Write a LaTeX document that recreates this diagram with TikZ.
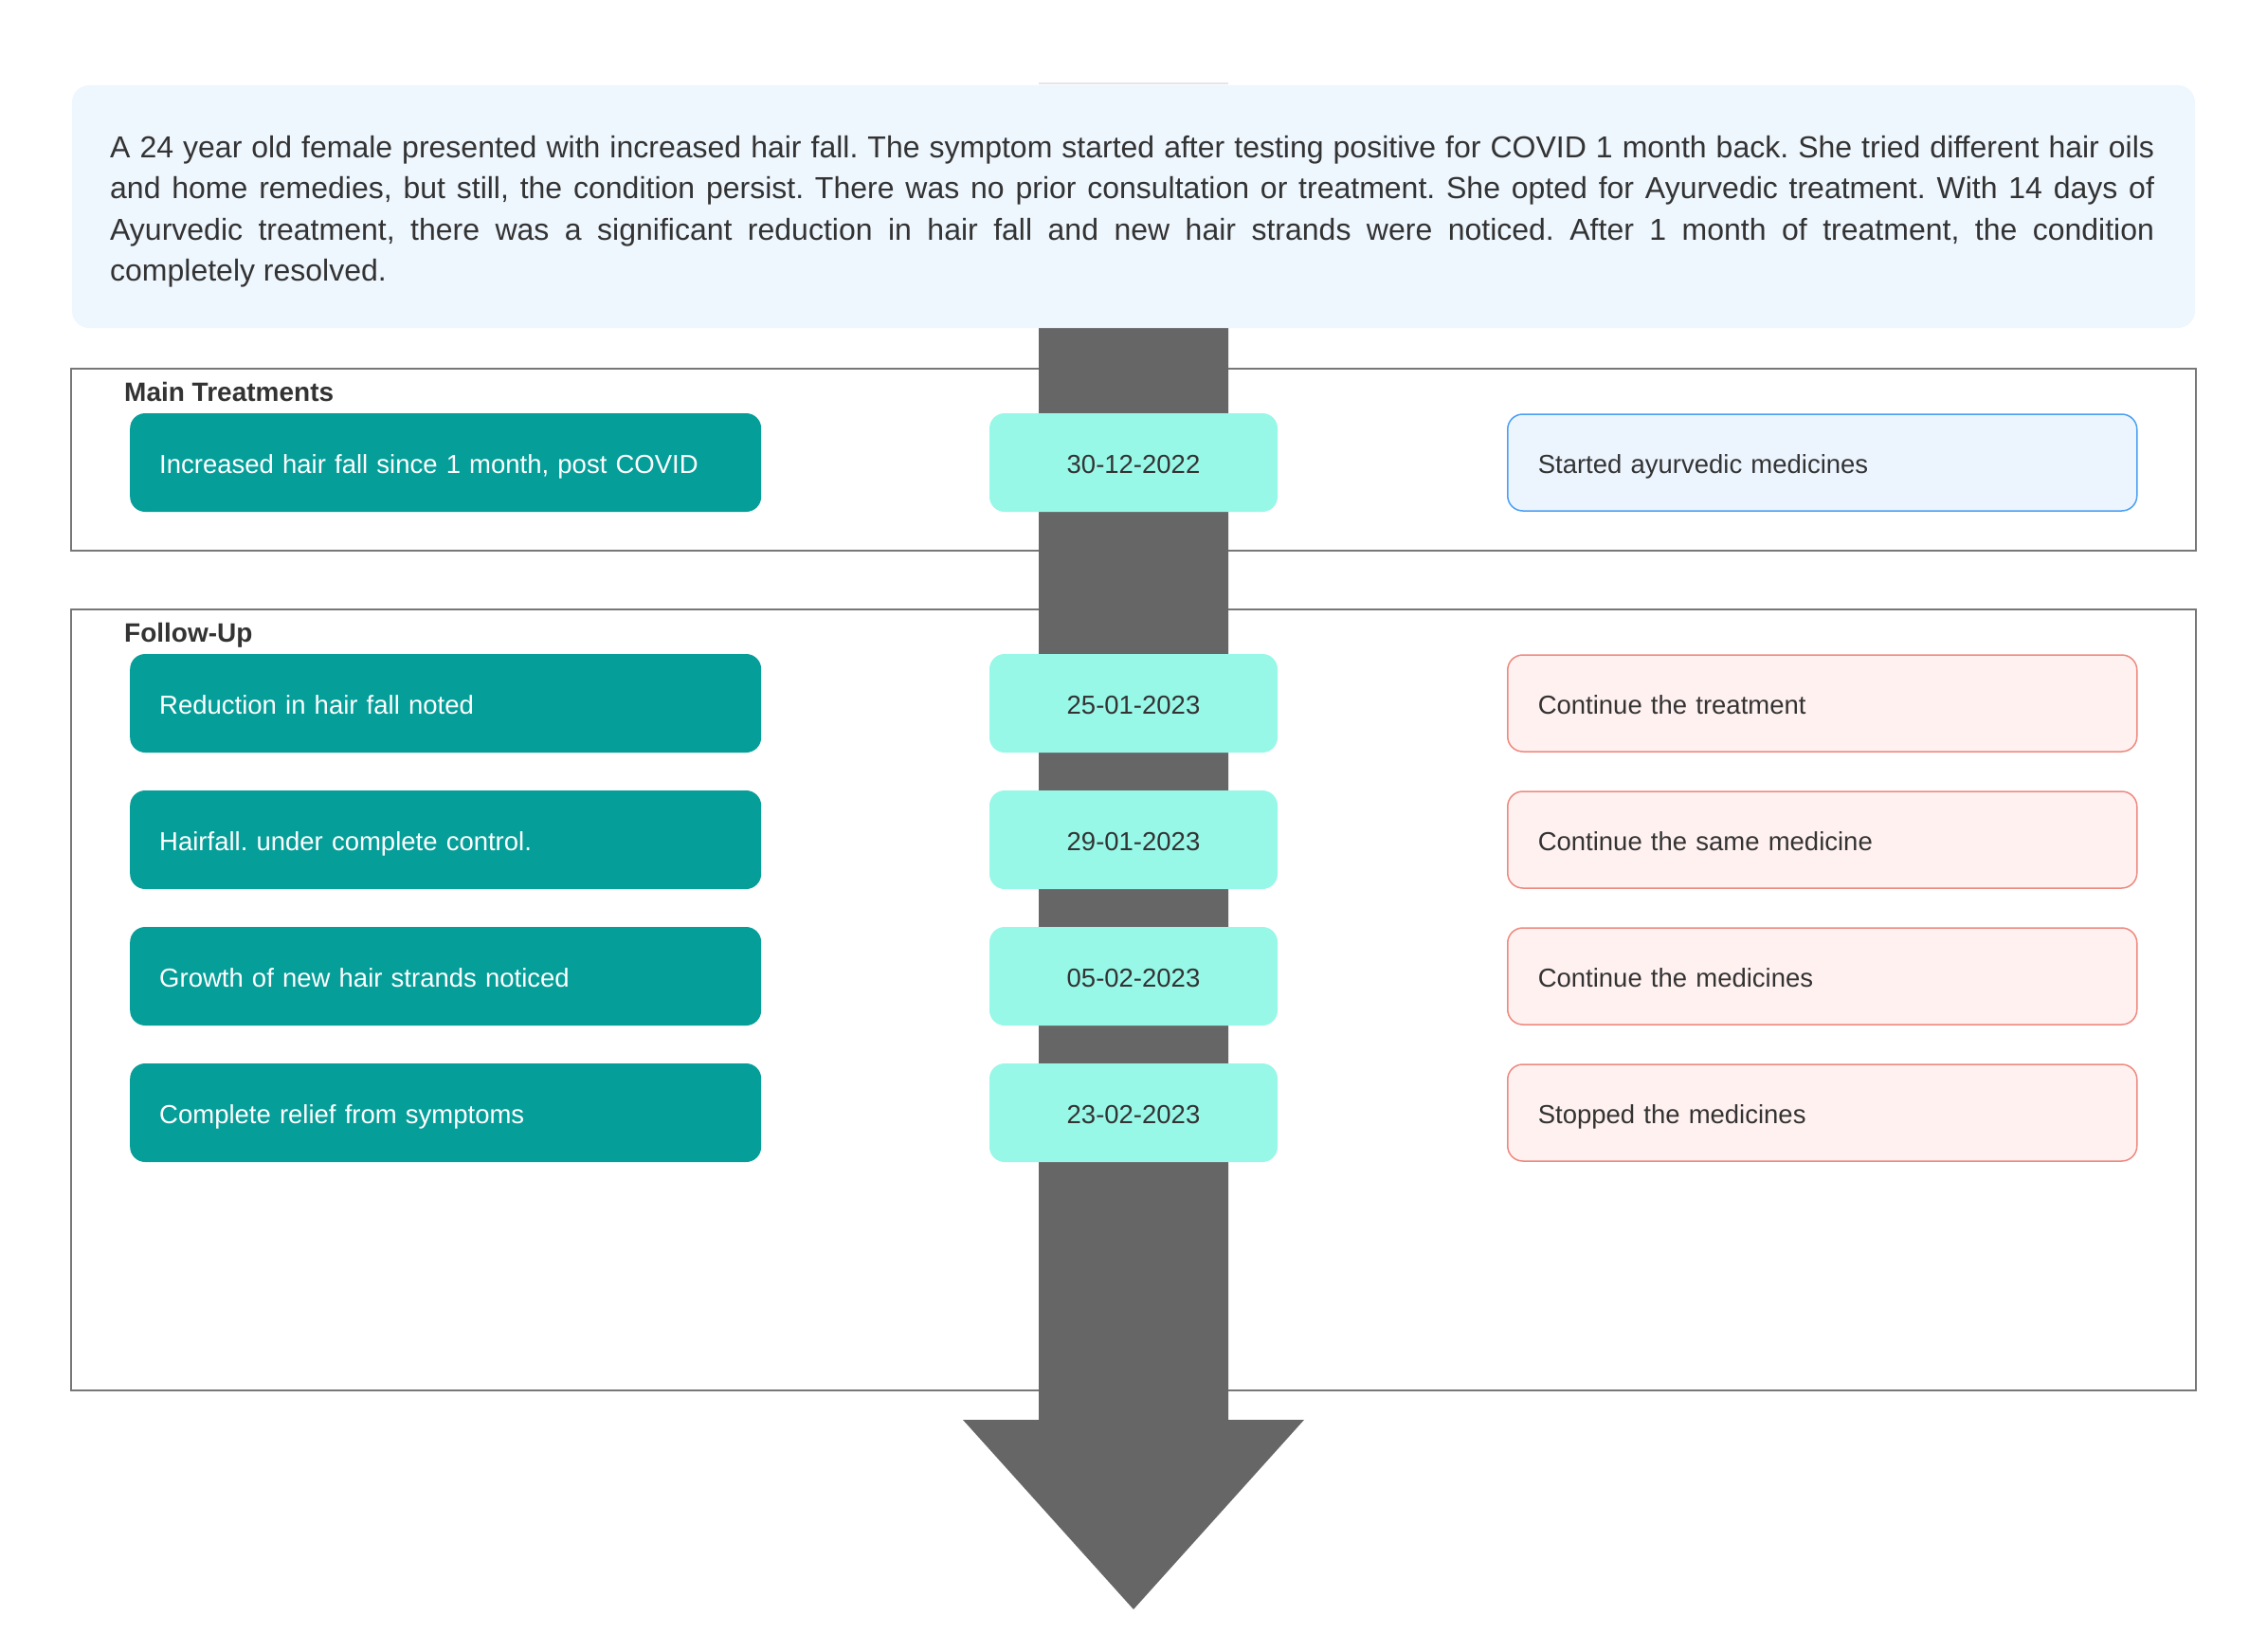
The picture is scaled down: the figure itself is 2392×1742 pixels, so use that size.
\documentclass[tikz,border=0pt]{standalone}
\usepackage{fontspec}
\setmainfont{Liberation Sans}
\definecolor{inkgray}{HTML}{333333}
\definecolor{caseteal}{HTML}{069E99}
\definecolor{datecyan}{HTML}{98F8E8}
\definecolor{notebg}{HTML}{EEF6FE}
\definecolor{startline}{HTML}{4DA0F2}
\definecolor{startbg}{HTML}{ECF4FE}
\definecolor{planline}{HTML}{EE8A80}
\definecolor{planbg}{HTML}{FFF1F0}
\definecolor{framegray}{HTML}{777777}
\definecolor{arrowgray}{HTML}{666666}
\frenchspacing

\begin{document}
\begin{tikzpicture}[x=1pt,y=-1pt,
  every node/.style={font=\fontsize{27.5}{34}\selectfont, text=inkgray},
  finding/.style={rectangle, rounded corners=16pt, fill=caseteal, text=white, anchor=west,
    text width=604pt, inner xsep=31pt, inner ysep=0pt, minimum height=104pt,
    text height=23pt, text depth=1pt, align=left},
  datebox/.style={rectangle, rounded corners=16pt, fill=datecyan, minimum width=304pt,
    minimum height=104pt, inner sep=0pt, text height=23pt, text depth=1pt},
  plan/.style={rectangle, rounded corners=16pt, draw=planline, fill=planbg, line width=1.5pt,
    anchor=west, text width=600pt, inner xsep=32pt, inner ysep=0pt, minimum height=102pt,
    text height=23pt, text depth=1pt, align=left},
  framelabel/.style={anchor=base west, inner sep=0pt, font=\fontsize{28}{34}\selectfont\bfseries}]
\useasboundingbox (0,0) rectangle (2392,1742);

\draw[framegray, line width=2pt] (75,389) rectangle (2317,581) ; % main frame
\draw[framegray, line width=2pt] (75,643) rectangle (2317,1467) ; % follow-up frame

\draw[black!10, line width=2pt] (1096,88) -- (1296,88) ; % arrow top edge
\fill[arrowgray] (1096,92) -- (1296,92) -- (1296,1498) -- (1376,1498) -- (1196,1698)
  -- (1016,1498) -- (1096,1498) -- cycle ; % time arrow

\fill[notebg, rounded corners=18pt] (76,90) rectangle (2316,346) ; % summary
\node[anchor=base west, inner sep=0pt, text width=2157pt, align=justify,
  font=\fontsize{32}{43.5}\selectfont] (summary) at (116,166)
  {\hyphenpenalty=10000 \tolerance=9999 A 24 year old female presented with increased hair fall. The symptom started after testing positive for COVID 1 month back. She tried different hair oils\linebreak
  and home remedies, but still, the condition persist. There was no prior consultation or treatment. She opted for Ayurvedic treatment. With 14 days of\linebreak
  Ayurvedic treatment, there was a significant reduction in hair fall and new hair strands were noticed. After 1 month of treatment, the condition\linebreak
  completely resolved.};

\node[framelabel] (mainlabel) at (131,423) {Main Treatments};
\node[finding] (finding0) at (137,488) {Increased hair fall since 1 month, post COVID};
\node[datebox] (date0) at (1196,488) {30-12-2022};
\node[plan, draw=startline, fill=startbg] (plan0) at (1590,488) {Started ayurvedic medicines};

\node[framelabel] (followlabel) at (131,677) {Follow-Up};
\node[finding] (finding1) at (137,742) {Reduction in hair fall noted};
\node[datebox] (date1) at (1196,742) {25-01-2023};
\node[plan] (plan1) at (1590,742) {Continue the treatment};

\node[finding] (finding2) at (137,886) {Hairfall. under complete control.};
\node[datebox] (date2) at (1196,886) {29-01-2023};
\node[plan] (plan2) at (1590,886) {Continue the same medicine};

\node[finding] (finding3) at (137,1030) {Growth of new hair strands noticed};
\node[datebox] (date3) at (1196,1030) {05-02-2023};
\node[plan] (plan3) at (1590,1030) {Continue the medicines};

\node[finding] (finding4) at (137,1174) {Complete relief from symptoms};
\node[datebox] (date4) at (1196,1174) {23-02-2023};
\node[plan] (plan4) at (1590,1174) {Stopped the medicines};

\end{tikzpicture}
\end{document}
